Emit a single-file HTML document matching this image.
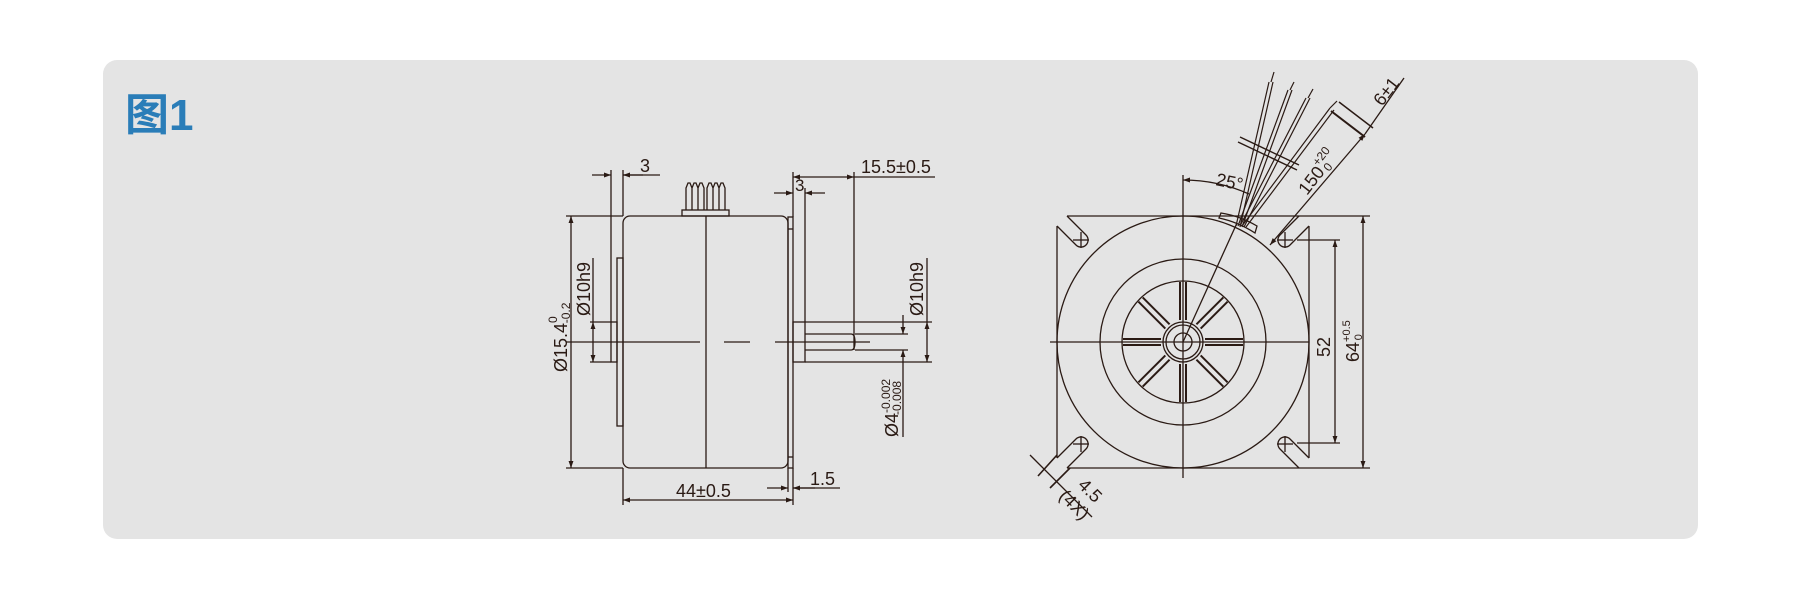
<!DOCTYPE html>
<html><head><meta charset="utf-8"><style>
html,body{margin:0;padding:0;background:#fff;}
svg{display:block;}
text{font-family:"Liberation Sans","Noto Sans CJK SC",sans-serif;fill:#2a1a14;}
</style></head><body>
<svg width="1800" height="608" viewBox="0 0 1800 608" xmlns="http://www.w3.org/2000/svg">
<defs>
<marker id="ar" viewBox="0 0 10 10" refX="10" refY="5" markerWidth="9" markerHeight="7" orient="auto-start-reverse" markerUnits="userSpaceOnUse"><path d="M0,1.5 L10,5 L0,8.5 z" fill="#2a1a14"/></marker>
</defs>
<rect x="103" y="60" width="1595" height="479" rx="14" fill="#e4e4e4"/>
<text x="125" y="130" style="font-size:44px;font-weight:bold;fill:#2a7db8;font-family:'Liberation Sans','Noto Sans CJK SC',sans-serif">图1</text>

<g stroke="#2a1a14" stroke-width="1.3" fill="none">
<rect x="623" y="216" width="165" height="252" rx="7"/>
<line x1="706" y1="216" x2="706" y2="468"/>
<rect x="682" y="210" width="47" height="6"/>
<path d="M686,210 V188 l2,-5 h2 l2,5 V210 M692,188 l2,-5 h2 l2,5 V210 M698,188 l2,-5 h2 l2,5 V210 M704,210 V188 M707,210 V188 l2,-5 h2 l2,5 V210 M713,188 l2,-5 h2 l2,5 V210 M719,188 l2,-5 h2 l2,5 V210"/>
<rect x="617" y="258" width="6" height="168"/>
<rect x="611" y="322" width="6" height="40"/>
<rect x="788" y="217" width="5" height="251"/>
<line x1="788" y1="229" x2="793" y2="229"/><line x1="788" y1="457" x2="793" y2="457"/>
<rect x="793" y="322" width="12" height="40"/>
<path d="M805,334 H851 Q855,334 855,342 Q855,350 851,350 H805"/>
<line x1="566" y1="342" x2="700" y2="342"/><line x1="724" y1="342" x2="750" y2="342"/><line x1="775" y1="342" x2="870" y2="342"/>
<line x1="566" y1="216" x2="623" y2="216"/><line x1="566" y1="468" x2="623" y2="468"/>
<line x1="571" y1="216" x2="571" y2="468" marker-start="url(#ar)" marker-end="url(#ar)"/>
<line x1="590" y1="322" x2="611" y2="322"/><line x1="590" y1="362" x2="611" y2="362"/>
<line x1="593" y1="258" x2="593" y2="322"/>
<line x1="593" y1="322" x2="593" y2="362" marker-start="url(#ar)" marker-end="url(#ar)"/>
<line x1="611" y1="170" x2="611" y2="322"/><line x1="623" y1="170" x2="623" y2="216"/>
<line x1="592" y1="175" x2="611" y2="175" marker-end="url(#ar)"/>
<line x1="643" y1="175" x2="623" y2="175" marker-end="url(#ar)"/>
<line x1="623" y1="175" x2="660" y2="175"/>
<line x1="793" y1="172" x2="793" y2="217"/><line x1="854" y1="172" x2="854" y2="350"/>
<line x1="793" y1="177" x2="854" y2="177" marker-start="url(#ar)" marker-end="url(#ar)"/>
<line x1="854" y1="177" x2="935" y2="177"/>
<line x1="805" y1="188" x2="805" y2="322"/>
<line x1="774" y1="193" x2="793" y2="193" marker-end="url(#ar)"/>
<line x1="825" y1="193" x2="805" y2="193" marker-end="url(#ar)"/>
<line x1="805" y1="322" x2="932" y2="322"/><line x1="805" y1="362" x2="932" y2="362"/>
<line x1="927" y1="258" x2="927" y2="322"/>
<line x1="927" y1="322" x2="927" y2="362" marker-start="url(#ar)" marker-end="url(#ar)"/>
<line x1="855" y1="334" x2="908" y2="334"/><line x1="855" y1="350" x2="908" y2="350"/>
<line x1="903" y1="315" x2="903" y2="334" marker-end="url(#ar)"/>
<line x1="903" y1="437" x2="903" y2="350" marker-end="url(#ar)"/>
<line x1="623" y1="468" x2="623" y2="505"/><line x1="793" y1="468" x2="793" y2="505"/><line x1="788" y1="468" x2="788" y2="492"/>
<line x1="623" y1="500" x2="793" y2="500" marker-start="url(#ar)" marker-end="url(#ar)"/>
<line x1="767" y1="488" x2="788" y2="488" marker-end="url(#ar)"/>
<line x1="815" y1="488" x2="793" y2="488" marker-end="url(#ar)"/>
<line x1="793" y1="488" x2="840" y2="488"/>

<g transform="translate(1183,342)">
<circle r="126"/><circle r="83"/><circle r="61"/>
<circle r="20"/><circle r="17"/><circle r="9"/>
<g stroke-width="2">
<g id="sp"><line x1="22" y1="-3" x2="60" y2="-3"/><line x1="22" y1="3" x2="60" y2="3"/></g>
<use href="#sp" transform="rotate(45)"/><use href="#sp" transform="rotate(90)"/><use href="#sp" transform="rotate(135)"/>
<use href="#sp" transform="rotate(180)"/><use href="#sp" transform="rotate(225)"/><use href="#sp" transform="rotate(270)"/><use href="#sp" transform="rotate(315)"/>
</g>
<line x1="-133" y1="0" x2="126" y2="0"/>
<line x1="0" y1="-167" x2="0" y2="136"/>
<line x1="-116" y1="-126" x2="116" y2="-126"/><line x1="-116" y1="126" x2="116" y2="126"/>
<line x1="-126" y1="-116" x2="-126" y2="116"/><line x1="126" y1="-116" x2="126" y2="116"/>
<g id="sl"><path d="M-116,-126 L-97,-107 A7 7 0 0 1 -107,-97 L-126,-116"/><line x1="-110" y1="-102" x2="-94" y2="-102"/><line x1="-102" y1="-110" x2="-102" y2="-94"/></g>
<use href="#sl" transform="scale(-1,1)"/><use href="#sl" transform="scale(1,-1)"/><use href="#sl" transform="scale(-1,-1)"/>
<line x1="0" y1="0" x2="54" y2="-119"/>
</g>
<line x1="1299" y1="216" x2="1370" y2="216"/><line x1="1299" y1="468" x2="1370" y2="468"/>
<line x1="1297" y1="240" x2="1340" y2="240"/><line x1="1297" y1="443" x2="1340" y2="443"/>
<line x1="1335" y1="240" x2="1335" y2="443" marker-start="url(#ar)" marker-end="url(#ar)"/>
<line x1="1363" y1="216" x2="1363" y2="468" marker-start="url(#ar)" marker-end="url(#ar)"/>
<path d="M1219,218 L1221,213 Q1240,216 1257,226 L1255,233 Q1238,222 1219,218 Z"/>
<g stroke-width="1.2">
<line x1="1236" y1="226" x2="1269" y2="82"/><line x1="1240" y1="227" x2="1273" y2="82"/><line x1="1271" y1="82" x2="1274" y2="72"/>
<line x1="1238" y1="226" x2="1288" y2="90"/><line x1="1242" y1="227" x2="1292" y2="90"/><line x1="1290" y1="90" x2="1294" y2="82"/>
<line x1="1240" y1="226" x2="1306" y2="98"/><line x1="1244" y1="227" x2="1310" y2="98"/><line x1="1308" y1="98" x2="1313" y2="89"/>
<line x1="1242" y1="226" x2="1330" y2="108"/><line x1="1246" y1="227" x2="1334" y2="110"/><line x1="1330" y1="108" x2="1337" y2="101"/>
</g>
<line x1="1240" y1="137" x2="1299" y2="165" stroke-width="1.4"/><line x1="1238" y1="142" x2="1297" y2="170" stroke-width="1.4"/>
<path d="M1183,180 A162 162 0 0 1 1249,194" marker-start="url(#ar)"/>
<line x1="1270" y1="245" x2="1365" y2="134" marker-start="url(#ar)" marker-end="url(#ar)"/>
<line x1="1365" y1="134" x2="1404" y2="78"/>
<line x1="1331" y1="111" x2="1365" y2="137" stroke-width="2"/>
<line x1="1339" y1="102" x2="1373" y2="128" stroke-width="1.5"/>
<line x1="1030" y1="455" x2="1092" y2="517"/>
<line x1="1038" y1="476" x2="1057" y2="455" stroke-width="1.6"/>
<line x1="1050" y1="488" x2="1070" y2="468" stroke-width="1.6"/>
</g>

<g font-size="18">
<text x="640" y="172">3</text>
<text x="861" y="173">15.5±0.5</text>
<text x="795" y="191" font-size="17">3</text>
<text x="676" y="497">44±0.5</text>
<text x="810" y="485">1.5</text>
<text transform="translate(567,372) rotate(-90)">Ø15.4<tspan font-size="12" dy="-10">0</tspan><tspan font-size="12" dx="-7" dy="13">-0.2</tspan></text>
<text transform="translate(590,316) rotate(-90)">Ø10h9</text>
<text transform="translate(923,316) rotate(-90)">Ø10h9</text>
<text transform="translate(898,437) rotate(-90)">Ø4<tspan font-size="12" dy="-8">-0.002</tspan><tspan font-size="12" dx="-36" dy="11">-0.008</tspan></text>
<text transform="translate(1330,357) rotate(-90)">52</text>
<text transform="translate(1359,362) rotate(-90)">64<tspan font-size="11" dy="-9">+0.5</tspan><tspan font-size="11" dx="-20" dy="12">0</tspan></text>
<text transform="translate(1215,185) rotate(12)">25°</text>
<text transform="translate(1307,196) rotate(-52.5)">150<tspan font-size="12" dy="-9">+20</tspan><tspan font-size="12" dx="-18" dy="12">0</tspan></text>
<text transform="translate(1382,107) rotate(-52.5)">6±1</text>
<text transform="translate(1077,486) rotate(45)">4.5</text>
<text transform="translate(1058,497) rotate(45)">(4X)</text>
</g>
</svg>
</body></html>
